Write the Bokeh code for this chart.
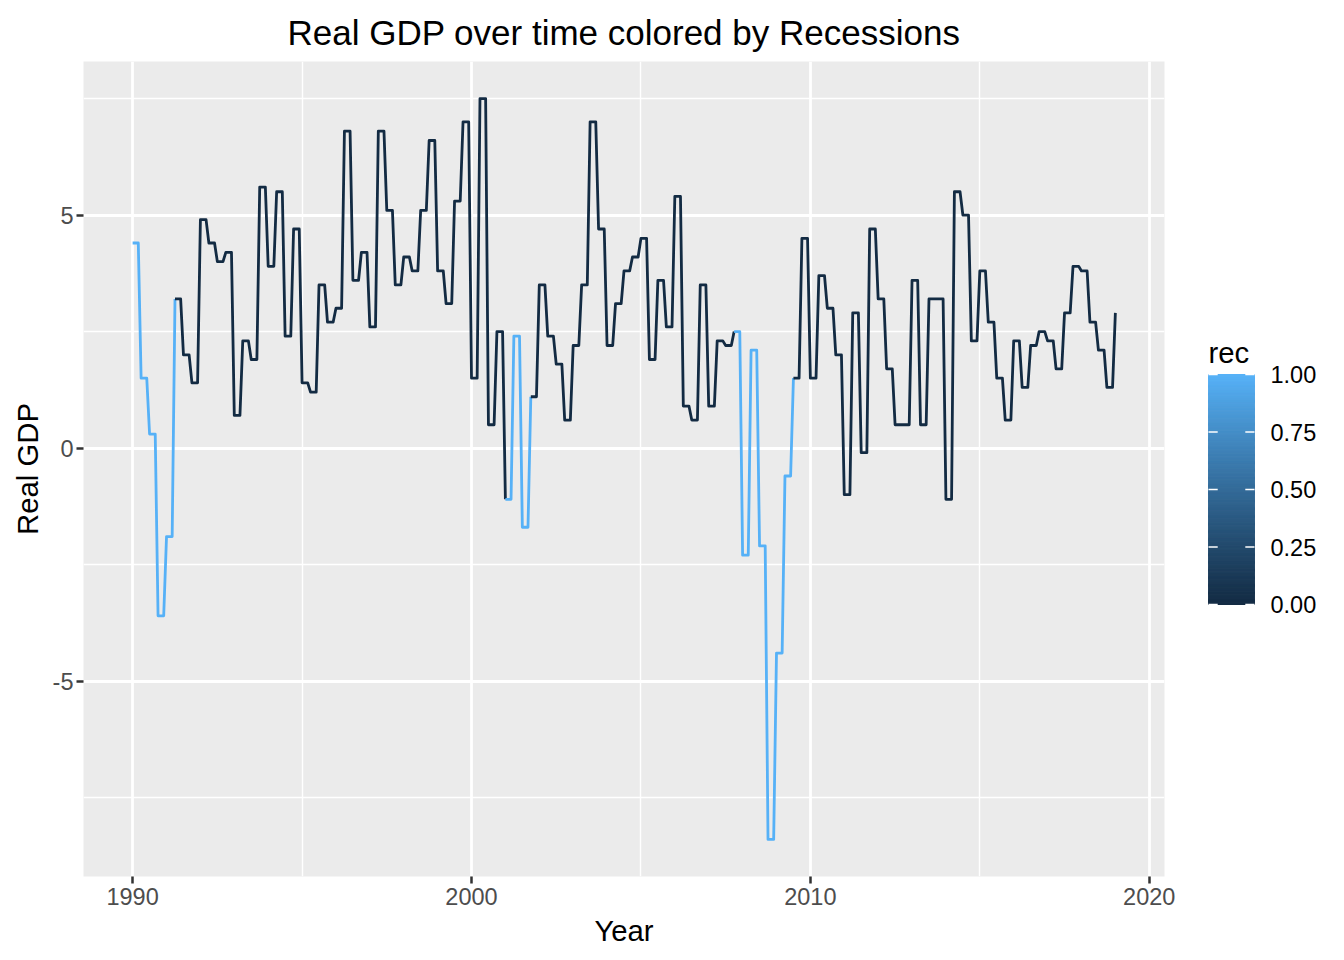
import numpy as np
from bokeh.plotting import figure
from bokeh.layouts import row
from bokeh.models import Range1d, FixedTicker, LinearColorMapper, ColumnDataSource
from bokeh.core.properties import value
from bokeh.embed import file_html
from bokeh.resources import INLINE

# ---------------- data (quarterly real GDP growth, 1990Q1 .. 2019Q1) ----------------
start_year = 1990
gdp_growth = [
    4.4, 1.5, 0.3, -3.6,    # 1990
    -1.9, 3.2, 2.0, 1.4,    # 1991
    4.9, 4.4, 4.0, 4.2,     # 1992
    0.7, 2.3, 1.9, 5.6,     # 1993
    3.9, 5.5, 2.4, 4.7,     # 1994
    1.4, 1.2, 3.5, 2.7,     # 1995
    3.0, 6.8, 3.6, 4.2,     # 1996
    2.6, 6.8, 5.1, 3.5,     # 1997
    4.1, 3.8, 5.1, 6.6,     # 1998
    3.8, 3.1, 5.3, 7.0,     # 1999
    1.5, 7.5, 0.5, 2.5,     # 2000
    -1.1, 2.4, -1.7, 1.1,   # 2001
    3.5, 2.4, 1.8, 0.6,     # 2002
    2.2, 3.5, 7.0, 4.7,     # 2003
    2.2, 3.1, 3.8, 4.1,     # 2004
    4.5, 1.9, 3.6, 2.6,     # 2005
    5.4, 0.9, 0.6, 3.5,     # 2006
    0.9, 2.3, 2.2, 2.5,     # 2007
    -2.3, 2.1, -2.1, -8.4,  # 2008
    -4.4, -0.6, 1.5, 4.5,   # 2009
    1.5, 3.7, 3.0, 2.0,     # 2010
    -1.0, 2.9, -0.1, 4.7,   # 2011
    3.2, 1.7, 0.5, 0.5,     # 2012
    3.6, 0.5, 3.2, 3.2,     # 2013
    -1.1, 5.5, 5.0, 2.3,    # 2014
    3.8, 2.7, 1.5, 0.6,     # 2015
    2.3, 1.3, 2.2, 2.5,     # 2016
    2.3, 1.7, 2.9, 3.9,     # 2017
    3.8, 2.7, 2.1, 1.3,     # 2018
    2.9,                    # 2019
]
rec_flag = [
    1, 1, 1, 1,  1, 0, 0, 0,                      # 1990-1991
    0, 0, 0, 0,  0, 0, 0, 0,  0, 0, 0, 0,         # 1992-1994
    0, 0, 0, 0,  0, 0, 0, 0,  0, 0, 0, 0,         # 1995-1997
    0, 0, 0, 0,  0, 0, 0, 0,  0, 0, 0, 0,         # 1998-2000
    1, 1, 1, 0,                                   # 2001
    0, 0, 0, 0,  0, 0, 0, 0,  0, 0, 0, 0,         # 2002-2004
    0, 0, 0, 0,  0, 0, 0, 0,  0, 0, 0, 1,         # 2005-2007
    1, 1, 1, 1,  1, 1, 0, 0,                      # 2008-2009
    0, 0, 0, 0,  0, 0, 0, 0,  0, 0, 0, 0,         # 2010-2012
    0, 0, 0, 0,  0, 0, 0, 0,  0, 0, 0, 0,         # 2013-2015
    0, 0, 0, 0,  0, 0, 0, 0,  0, 0, 0, 0,         # 2016-2018
    0,                                            # 2019
]
x_ticks = [1990, 2000, 2010, 2020]
x_minor = [1995, 2005, 2015]
y_ticks = [-5, 0, 5]
y_minor = [-7.5, -2.5, 2.5, 7.5]
legend_title = "rec"
legend_ticks = [0.0, 0.25, 0.5, 0.75, 1.0]
legend_labels = ["0.00", "0.25", "0.50", "0.75", "1.00"]

# ---------------- monthly series (each quarter's value held for its months) ----------
mx, my, mr = [], [], []
nq = len(gdp_growth)
for i, (v, r) in enumerate(zip(gdp_growth, rec_flag)):
    months = 3 if i < nq - 1 else 1
    for k in range(months):
        mx.append(start_year + i * 0.25 + k / 12.0)
        my.append(v)
        mr.append(r)

# group consecutive segments by the colour of their starting point (as ggplot does)
run_xs, run_ys, run_rec = [], [], []
cx, cy, cr = [mx[0]], [my[0]], mr[0]
for j in range(len(mx) - 1):
    if mr[j] != cr:
        run_xs.append(cx); run_ys.append(cy); run_rec.append(cr)
        cx, cy, cr = [mx[j]], [my[j]], mr[j]
    cx.append(mx[j + 1]); cy.append(my[j + 1])
run_xs.append(cx); run_ys.append(cy); run_rec.append(cr)

# ---------------- ggplot-like gradient (#132B43 -> #56B1F7, Lab interpolation) -------
def hex2rgb(h):
    h = h.lstrip('#')
    return np.array([int(h[i:i + 2], 16) / 255.0 for i in (0, 2, 4)])

M = np.array([[0.4124564, 0.3575761, 0.1804375],
              [0.2126729, 0.7151522, 0.0721750],
              [0.0193339, 0.1191920, 0.9503041]])
Minv = np.linalg.inv(M)
WHITE = np.array([0.95047, 1.0, 1.08883])

def rgb2lab(c):
    lin = np.where(c <= 0.04045, c / 12.92, ((c + 0.055) / 1.055) ** 2.4)
    xyz = M @ lin / WHITE
    f = np.where(xyz > (6 / 29) ** 3, np.cbrt(xyz), xyz / (3 * (6 / 29) ** 2) + 4 / 29)
    return np.array([116 * f[1] - 16, 500 * (f[0] - f[1]), 200 * (f[1] - f[2])])

def lab2hex(lab):
    L, a, b = lab
    fy = (L + 16) / 116
    f = np.array([fy + a / 500, fy, fy - b / 200])
    xyz = np.where(f > 6 / 29, f ** 3, 3 * (6 / 29) ** 2 * (f - 4 / 29)) * WHITE
    lin = Minv @ xyz
    lin = np.clip(lin, 0, 1)
    c = np.where(lin <= 0.0031308, 12.92 * lin, 1.055 * lin ** (1 / 2.4) - 0.055)
    c = np.clip(np.round(c * 255), 0, 255).astype(int)
    return '#%02x%02x%02x' % tuple(c)

lo, hi = rgb2lab(hex2rgb('#132B43')), rgb2lab(hex2rgb('#56B1F7'))
palette = [lab2hex(lo + (hi - lo) * t) for t in np.linspace(0, 1, 256)]
mapper = LinearColorMapper(palette=palette, low=0, high=1)

# ---------------- main figure ----------------
FONT = "Liberation Sans"
H = 952
TOP, BOTTOM = 61, 76                       # borders around the panel (px)
x_lo, x_hi = min(mx), max(mx)
y_lo, y_hi = min(my), max(my)
xpad, ypad = (x_hi - x_lo) * 0.05, (y_hi - y_lo) * 0.05

p = figure(width=1180, height=H, output_backend="svg", toolbar_location=None,
           x_range=Range1d(x_lo - xpad, x_hi + xpad),
           y_range=Range1d(y_lo - ypad, y_hi + ypad),
           min_border_left=83, min_border_right=16, min_border_top=TOP,
           min_border_bottom=BOTTOM)

p.background_fill_color = "#EBEBEB"
p.border_fill_color = "white"
p.outline_line_color = None

src = ColumnDataSource(dict(xs=run_xs, ys=run_ys, rec=run_rec))
p.multi_line(xs='xs', ys='ys', source=src,
             line_color={'field': 'rec', 'transform': mapper},
             line_width=2.8, line_join="round", line_cap="butt")

# title (centred over the panel)
p.title.text = "Real GDP over time colored by Recessions"
p.title.align = "center"
p.title.text_font = FONT
p.title.text_font_size = "35px"
p.title.text_font_style = "normal"
p.title.text_color = "black"
p.title.standoff = 20

# axes
p.xaxis.ticker = FixedTicker(ticks=x_ticks, minor_ticks=x_minor)
p.yaxis.ticker = FixedTicker(ticks=y_ticks, minor_ticks=y_minor)
p.yaxis.major_label_overrides = {t: str(t) for t in y_ticks}
p.xaxis.axis_label = "Year"
p.yaxis.axis_label = "Real GDP"
for ax in (p.xaxis, p.yaxis):
    ax.axis_line_color = None
    ax.minor_tick_line_color = None
    ax.major_tick_line_color = "#333333"
    ax.major_tick_line_width = 2.5
    ax.major_tick_in = 0
    ax.major_tick_out = 7
    ax.major_label_text_font = FONT
    ax.major_label_text_font_size = "23.5px"
    ax.major_label_text_color = "#4D4D4D"
    ax.axis_label_text_font = FONT
    ax.axis_label_text_font_size = "29.3px"
    ax.axis_label_text_font_style = "normal"
    ax.axis_label_text_color = "black"
    ax.axis_label_standoff = 6
p.xaxis.major_label_standoff = 4
p.yaxis.major_label_standoff = 3

# grid
for g in (p.xgrid, p.ygrid):
    g.grid_line_color = "white"
    g.grid_line_width = 2.8
    g.minor_grid_line_color = "white"
    g.minor_grid_line_width = 1.4

# ---------------- colour-bar legend (own small figure; its frame is aligned with the
# main panel by the row layout, so its ranges are set in that frame's pixels) ---------
LW = 156
frame_top, frame_bottom = TOP, H - BOTTOM   # page y of the shared frame edges
bar_bottom_px, bar_px = 604, 230            # page y of value 0, bar height in px
title_baseline_px = 352
bar_left, bar_w = 28, 46
leg = figure(width=LW, height=H, output_backend="svg", toolbar_location=None,
             title=None, min_border=0,
             x_range=Range1d(0, LW),
             y_range=Range1d((bar_bottom_px - frame_bottom) / bar_px,
                             (bar_bottom_px - frame_top) / bar_px))
leg.axis.visible = False
leg.grid.visible = False
leg.outline_line_color = None
leg.background_fill_color = "white"
leg.border_fill_color = "white"

nb = 200
edges = np.linspace(0, 1, nb + 1)
bar_src = ColumnDataSource(dict(bottom=edges[:-1], top=edges[1:],
                                v=(edges[:-1] + edges[1:]) / 2))
leg.quad(left=bar_left, right=bar_left + bar_w, bottom='bottom', top='top',
         fill_color={'field': 'v', 'transform': mapper},
         line_color={'field': 'v', 'transform': mapper}, line_width=1,
         source=bar_src)
tick_len = bar_w / 5
leg.segment(x0=bar_left, x1=bar_left + tick_len, y0=legend_ticks, y1=legend_ticks,
            line_color="white", line_width=1.3)
leg.segment(x0=bar_left + bar_w - tick_len, x1=bar_left + bar_w, y0=legend_ticks,
            y1=legend_ticks, line_color="white", line_width=1.3)
leg.text(x=[bar_left + bar_w + 16] * len(legend_ticks), y=legend_ticks, text=legend_labels,
         text_font=value(FONT), text_font_size="23.5px", text_color="black",
         text_baseline="middle", text_align="left")
leg.text(x=[bar_left], y=[(bar_bottom_px - title_baseline_px) / bar_px], text=[legend_title],
         text_font=value(FONT), text_font_size="29.3px", text_color="black",
         text_baseline="alphabetic", text_align="left")

layout = row(p, leg, spacing=0)
open("out.html", "w").write(file_html(layout, INLINE))
